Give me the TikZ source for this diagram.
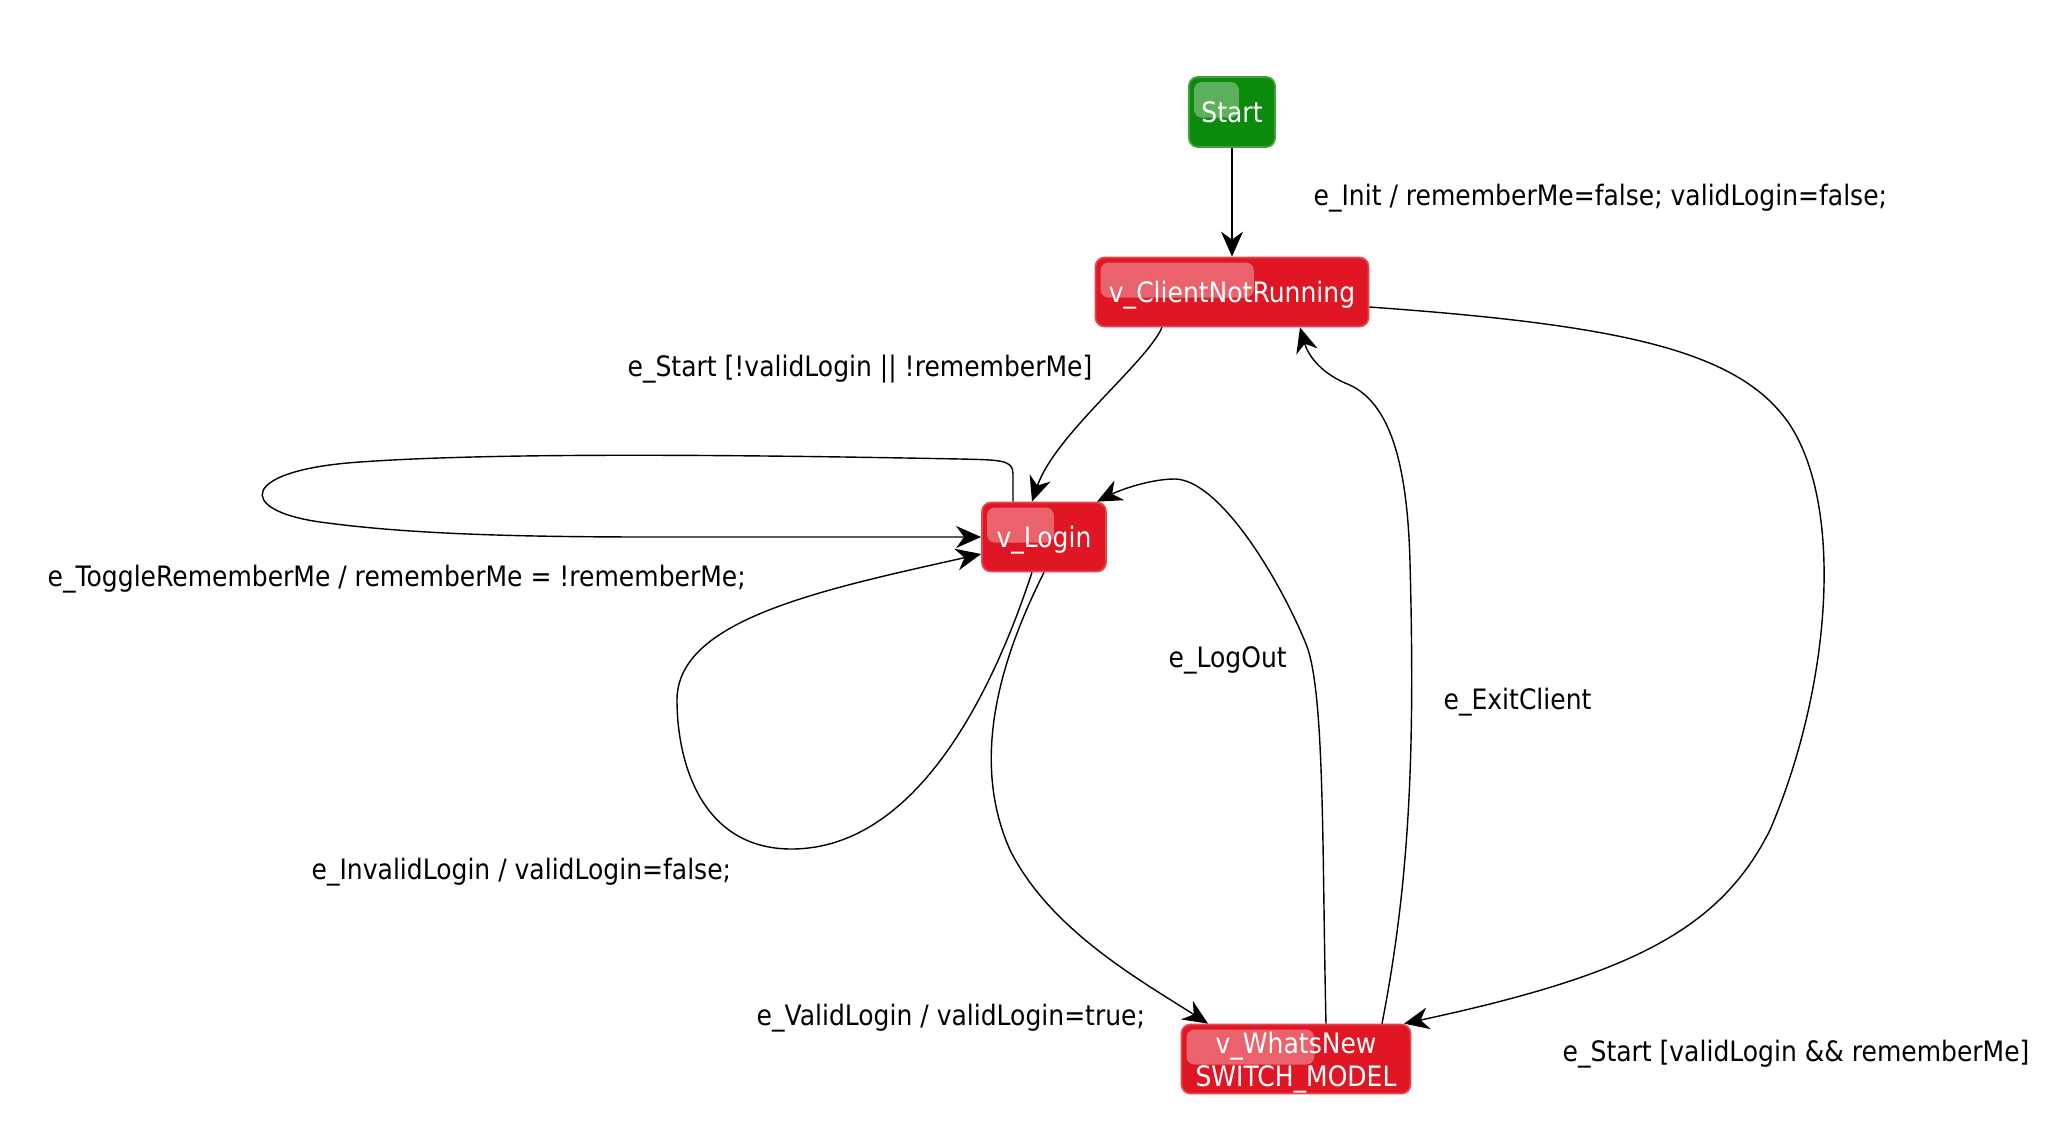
\documentclass[tikz,border=0pt]{standalone}
\usepackage{fontspec}
\setmainfont{DejaVu Sans}[FakeStretch=0.89]
\usepackage{tikz}
\usetikzlibrary{positioning}
\usetikzlibrary{shapes,calc,arrows.meta}
\definecolor{stRed}{RGB}{224,22,36}
\definecolor{stGreen}{RGB}{12,138,12}
\tikzset{
	-{Stealth[length=0.25cm,width=0.22cm,inset=0.08cm]},auto,node distance = 1.8cm and 1.5cm,
	line width=0.6pt,
	gloss/.style = {path picture={\fill[white, opacity=0.33, rounded corners=0.08cm]
		([shift={(0.05,-0.05)}]path picture bounding box.north west) rectangle
		($(path picture bounding box.north west)!0.58!(path picture bounding box.south east)$);}},
	state/.style ={rectangle, rounded corners=0.09cm, draw=stRed!80!white, line width=0.5pt,
		fill=stRed, text=white, minimum height=0.69cm, inner sep=1pt, align=center,
		text depth=0pt, gloss},
	initstate/.style = {state, fill=stGreen, draw=stGreen!80!white,
		minimum width=0.86cm, minimum height=0.70cm},
	lbl/.style = {inner sep=0pt, anchor=west},
}

\begin{document}
\begin{tikzpicture}[font=\fontsize{8pt}{9.4pt}\selectfont]
	\useasboundingbox (0,0) rectangle (20.48,-11.37);
	% states
	\node (start) [initstate] at (12.32,-1.12) {Start};
	\node (notrun) [state, minimum width=2.73cm, below of = start] {v\_ClientNotRunning};
	\node (login) [state, minimum width=1.24cm] at (10.44,-5.37) {v\_Login};
	\node (whatsnew) [state, minimum width=2.29cm] at (12.96,-10.59) {v\_WhatsNew\\SWITCH\_MODEL};
	% labels
	\node (linit) [lbl] at (13.13,-1.98) {e\_Init / rememberMe=false; validLogin=false;};
	\node (lstart) [lbl] at (6.27,-3.69) {e\_Start [!validLogin || !rememberMe]};
	\node (ltoggle) [lbl] at (0.47,-5.79) {e\_ToggleRememberMe / rememberMe = !rememberMe;};
	\node (llogout) [lbl] at (11.68,-6.60) {e\_LogOut};
	\node (lexit) [lbl] at (14.43,-7.02) {e\_ExitClient};
	\node (linvalid) [lbl] at (3.11,-8.72) {e\_InvalidLogin / validLogin=false;};
	\node (lvalid) [lbl] at (7.56,-10.18) {e\_ValidLogin / validLogin=true;};
	\node (lstartok) [lbl] at (15.62,-10.54) {e\_Start [validLogin \&\& rememberMe]};
	% transitions
	\path (start) edge (notrun);
	\draw ([xshift=-0.70cm]notrun.south) .. controls +(-0.16,-0.36) and +(0.23,0.67) .. ([xshift=-0.12cm]login.north);
	\draw ([xshift=-0.31cm]login.north) -- ++(0,0.28) .. controls +(0,0.14) and (10.0,-4.6) .. (9.6,-4.59)
		.. controls (7.5,-4.55) and (5.0,-4.52) .. (3.6,-4.62)
		.. controls (2.4,-4.7) and (2.35,-5.1) .. (3.2,-5.22)
		.. controls (4.0,-5.33) and (5.0,-5.37) .. (6.5,-5.37) -- (login.west);
	\draw ([xshift=-0.12cm]login.south) .. controls (9.8,-7.3) and (9.0,-8.5) .. (7.9,-8.49)
		.. controls (7.0,-8.48) and (6.77,-7.6) .. (6.77,-7.0)
		.. controls (6.77,-6.2) and (8.2,-5.9) .. ([yshift=-0.17cm]login.west);
	\draw (login.south) .. controls (10.0,-6.6) and (9.7,-7.6) .. (10.1,-8.5)
		.. controls (10.5,-9.3) and (11.4,-9.8) .. ([xshift=-0.88cm]whatsnew.north);
	\draw ([xshift=0.30cm]whatsnew.north) .. controls (13.22,-8.5) and (13.25,-6.9) .. (13.06,-6.44)
		.. controls (12.8,-5.8) and (12.2,-4.8) .. (11.75,-4.79)
		.. controls (11.5,-4.79) and (11.2,-4.9) .. ([xshift=0.53cm]login.north);
	\draw ([xshift=0.86cm]whatsnew.north) .. controls (14.1,-8.8) and (14.15,-7.5) .. (14.1,-5.62)
		.. controls (14.07,-4.5) and (13.85,-3.98) .. (13.45,-3.83)
		.. controls (13.2,-3.72) and (13.08,-3.55) .. ([xshift=0.68cm]notrun.south);
	\draw ([yshift=-0.15cm]notrun.east) .. controls (16.2,-3.25) and (17.4,-3.5) .. (17.9,-4.25)
		.. controls (18.45,-5.1) and (18.3,-6.9) .. (17.7,-8.3)
		.. controls (17.2,-9.3) and (16.3,-9.75) .. ([xshift=1.08cm]whatsnew.north);
\end{tikzpicture}
\end{document}
